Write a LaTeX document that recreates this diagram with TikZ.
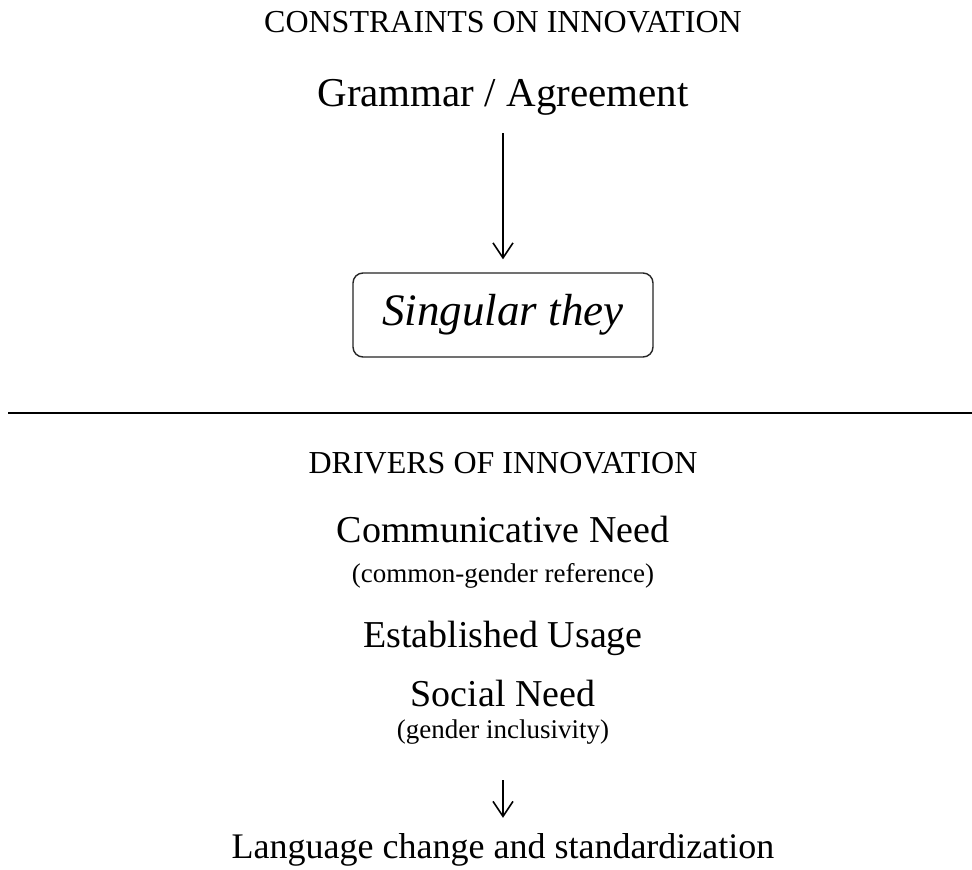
\documentclass[tikz,border=0pt]{standalone}
\usepackage{fontspec}
\setmainfont{Liberation Serif}
\usetikzlibrary{arrows.meta}
\newcommand{\fsz}[1]{\fontsize{#1}{#1}\selectfont}
\tikzset{
  txt/.style={anchor=base, inner sep=0pt, text=black},
  head/.style={txt, font=\fsz{32}},
  big/.style={txt, font=\fsz{38}},
  small/.style={txt, font=\fsz{27}},
  arr/.style={draw=black, line width=1.6pt, -{Straight Barb[length=15pt, width=20pt, line width=1.6pt]}},
  keybox/.style={draw=black!85, line width=1.4pt, rounded corners=10pt, minimum width=300pt, minimum height=84pt, inner sep=0pt, font=\fsz{45}\itshape}
}
\begin{document}
\begin{tikzpicture}[x=1pt, y=-1pt]
\useasboundingbox (0,0) rectangle (972,870);
\fill[white] (0,0) rectangle (972,870);
% upper half
\node[head] (chead) at (503,32) {CONSTRAINTS ON INNOVATION};
\node[txt, font=\fsz{41}] (gram) at (503,106) {Grammar / Agreement};
\node[keybox] (sing) at (503,315) {Singular they};
\draw[arr, shorten <=18pt, shorten >=13pt] (gram.south) -- (sing.north);
% divider
\coordinate (dl) at (8,412.7);
\coordinate (dr) at (972,412.7);
\draw[line width=2pt] (dl) -- (dr);
% lower half
\node[head] (dhead) at (503,473) {DRIVERS OF INNOVATION};
\node[big] (comm) at (503,542) {Communicative Need};
\node[small] (commsub) at (503,582) {(common-gender reference)};
\node[big] (estab) at (503,647) {Established Usage};
\node[big] (social) at (503,706) {Social Need};
\node[small] (socsub) at (503,738) {(gender inclusivity)};
\node[txt, font=\fsz{36}] (lang) at (503,858) {Language change and standardization};
\draw[arr, shorten <=36pt, shorten >=15pt] (socsub.south) -- (lang.north);
\end{tikzpicture}
\end{document}
